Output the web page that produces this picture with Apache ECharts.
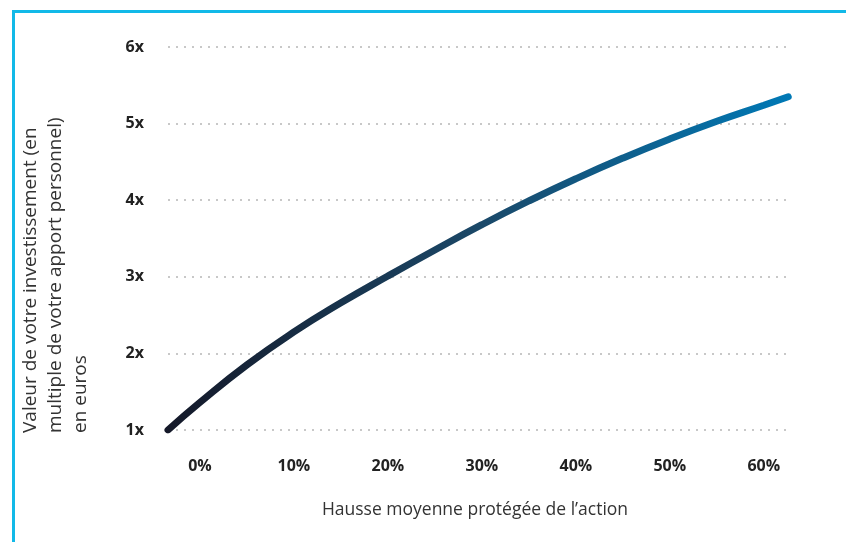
<!DOCTYPE html>
<html>
<head>
<meta charset="utf-8">
<script src="https://cdn.jsdelivr.net/npm/echarts@6/dist/echarts.min.js"></script>
<style>
  html, body { margin: 0; padding: 0; background: #fff; }
  #chart { width: 846px; height: 542px; }
</style>
</head>
<body>
<div id="chart"></div>
<script>
// hausse moyenne (%) et valeur (multiple de l'apport)
const hausse = [-3.4, 0, 5, 10, 15, 20, 25, 30, 35, 40, 45, 50, 55, 60, 62.6];
const valeur = [1, 1.36, 1.85, 2.28, 2.66, 3.01, 3.35, 3.68, 3.99, 4.28, 4.55, 4.8, 5.03, 5.24, 5.35];
const xTicks = [0, 10, 20, 30, 40, 50, 60];

const xName = 'Hausse moyenne protégée de l’action';
const yName = 'Valeur de votre investissement (en\nmultiple de votre apport personnel)\nen euros';

const chart = echarts.init(document.getElementById('chart'));
const font = 'Open Sans';

chart.setOption({
  animation: false,
  textStyle: { fontFamily: font },
  grid: { left: 168, right: 54, top: 47, bottom: 112 },
  xAxis: {
    type: 'value',
    min: -3.4,
    max: 63,
    name: xName,
    nameLocation: 'middle',
    nameGap: 71,
    nameTextStyle: { fontSize: 17.5, color: '#333', fontFamily: font, padding: [0, 10, 0, 0] },
    axisLine: { show: false },
    axisTick: { show: false },
    splitLine: { show: false },
    axisLabel: {
      customValues: xTicks,
      formatter: (v) => v + '%',
      margin: 28,
      fontSize: 16,
      fontWeight: 'bold',
      color: '#222',
      fontFamily: font
    }
  },
  yAxis: {
    type: 'value',
    min: 1,
    max: 6,
    interval: 1,
    axisLine: { show: false },
    axisTick: { show: false },
    axisLabel: {
      formatter: (v) => v + 'x',
      margin: 24,
      fontSize: 16,
      fontWeight: 'bold',
      color: '#222',
      fontFamily: font
    },
    splitLine: {
      lineStyle: { color: '#c8c8c8', width: 2, type: [2, 6] }
    }
  },
  graphic: [
    // cadre bleu (haut et gauche)
    {
      type: 'polyline',
      shape: { points: [[13.5, 542], [13.5, 11.5], [846, 11.5]] },
      style: { stroke: '#12b9e8', lineWidth: 3, fill: null }
    },
    {
      type: 'text',
      x: 56,
      y: 433,
      rotation: Math.PI / 2,
      style: {
        text: yName,
        fontSize: 19,
        fontFamily: font,
        lineHeight: 25,
        fill: '#333',
        align: 'left',
        verticalAlign: 'middle'
      }
    }
  ],
  series: [
    {
      type: 'line',
      data: hausse.map((h, i) => [h, valeur[i]]),
      smooth: 0.5,
      showSymbol: false,
      symbol: 'none',
      lineStyle: {
        width: 7,
        cap: 'round',
        color: new echarts.graphic.LinearGradient(0, 0, 1, 0, [
          { offset: 0, color: '#141828' },
          { offset: 0.5, color: '#1b4868' },
          { offset: 1, color: '#0079b6' }
        ])
      }
    }
  ]
});
</script>
</body>
</html>
